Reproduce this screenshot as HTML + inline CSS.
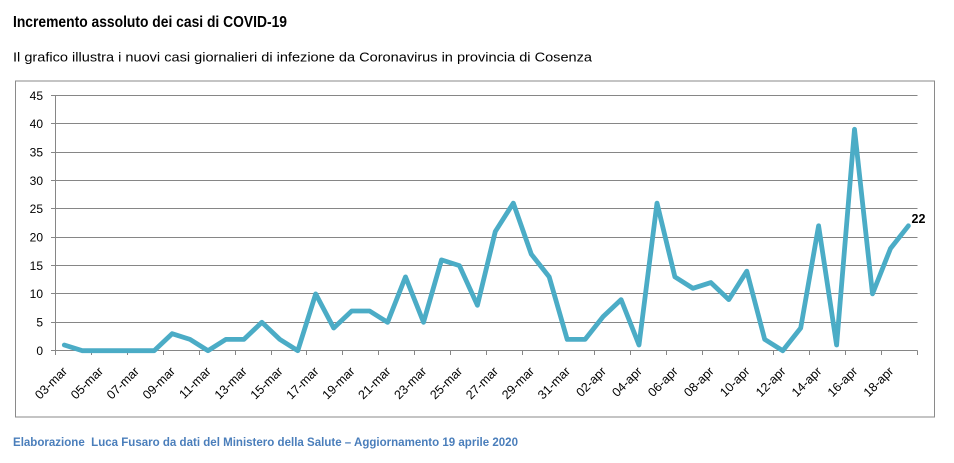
<!DOCTYPE html>
<html>
<head>
<meta charset="utf-8">
<style>
  html,body{margin:0;padding:0;background:#fff;}
  svg{display:block;}
  text{font-family:"Liberation Sans",Arial,sans-serif;}
</style>
</head>
<body>
<svg width="954" height="463" viewBox="0 0 954 463" xmlns="http://www.w3.org/2000/svg">
  <rect width="954" height="463" fill="#fff"/>
  <text x="13" y="27" font-size="15.5" font-weight="bold" fill="#000" textLength="274" lengthAdjust="spacingAndGlyphs">Incremento assoluto dei casi di COVID-19</text>
  <text x="13" y="61.5" font-size="13" fill="#000" textLength="579" lengthAdjust="spacingAndGlyphs">Il grafico illustra i nuovi casi giornalieri di infezione da Coronavirus in provincia di Cosenza</text>

  <rect x="15.5" y="81" width="919" height="336" fill="none" stroke="#8a8a8a" stroke-width="1"/>

  <g stroke="#868686" stroke-width="1" shape-rendering="crispEdges">
    <line x1="51" y1="95.5" x2="917.5" y2="95.5"/>
    <line x1="51" y1="123.5" x2="917.5" y2="123.5"/>
    <line x1="51" y1="152.5" x2="917.5" y2="152.5"/>
    <line x1="51" y1="180.5" x2="917.5" y2="180.5"/>
    <line x1="51" y1="208.5" x2="917.5" y2="208.5"/>
    <line x1="51" y1="237.5" x2="917.5" y2="237.5"/>
    <line x1="51" y1="265.5" x2="917.5" y2="265.5"/>
    <line x1="51" y1="293.5" x2="917.5" y2="293.5"/>
    <line x1="51" y1="322.5" x2="917.5" y2="322.5"/>
    <line x1="51" y1="350.5" x2="917.5" y2="350.5"/>
    <line x1="55.5" y1="95.5" x2="55.5" y2="355"/>
  </g>
  <g stroke="#868686" stroke-width="1" shape-rendering="crispEdges">
    <line x1="91.5" y1="350.5" x2="91.5" y2="355"/>
    <line x1="127.5" y1="350.5" x2="127.5" y2="355"/>
    <line x1="163.5" y1="350.5" x2="163.5" y2="355"/>
    <line x1="199.5" y1="350.5" x2="199.5" y2="355"/>
    <line x1="235.5" y1="350.5" x2="235.5" y2="355"/>
    <line x1="271.5" y1="350.5" x2="271.5" y2="355"/>
    <line x1="306.5" y1="350.5" x2="306.5" y2="355"/>
    <line x1="342.5" y1="350.5" x2="342.5" y2="355"/>
    <line x1="378.5" y1="350.5" x2="378.5" y2="355"/>
    <line x1="414.5" y1="350.5" x2="414.5" y2="355"/>
    <line x1="450.5" y1="350.5" x2="450.5" y2="355"/>
    <line x1="486.5" y1="350.5" x2="486.5" y2="355"/>
    <line x1="522.5" y1="350.5" x2="522.5" y2="355"/>
    <line x1="558.5" y1="350.5" x2="558.5" y2="355"/>
    <line x1="594.5" y1="350.5" x2="594.5" y2="355"/>
    <line x1="630.5" y1="350.5" x2="630.5" y2="355"/>
    <line x1="666.5" y1="350.5" x2="666.5" y2="355"/>
    <line x1="702.5" y1="350.5" x2="702.5" y2="355"/>
    <line x1="738.5" y1="350.5" x2="738.5" y2="355"/>
    <line x1="773.5" y1="350.5" x2="773.5" y2="355"/>
    <line x1="809.5" y1="350.5" x2="809.5" y2="355"/>
    <line x1="845.5" y1="350.5" x2="845.5" y2="355"/>
    <line x1="881.5" y1="350.5" x2="881.5" y2="355"/>
    <line x1="917.5" y1="350.5" x2="917.5" y2="355"/>
  </g>

  <g font-size="12" fill="#000" text-anchor="end">
    <text x="43" y="100">45</text>
    <text x="43" y="128">40</text>
    <text x="43" y="156.5">35</text>
    <text x="43" y="185">30</text>
    <text x="43" y="213">25</text>
    <text x="43" y="241.5">20</text>
    <text x="43" y="270">15</text>
    <text x="43" y="298">10</text>
    <text x="43" y="326.5">5</text>
    <text x="43" y="355">0</text>
  </g>

  <g font-size="12.5" fill="#000" text-anchor="end">
    <text transform="translate(68,372) rotate(-45)">03-mar</text>
    <text transform="translate(103.9,372) rotate(-45)">05-mar</text>
    <text transform="translate(139.8,372) rotate(-45)">07-mar</text>
    <text transform="translate(175.8,372) rotate(-45)">09-mar</text>
    <text transform="translate(211.6,372) rotate(-45)">11-mar</text>
    <text transform="translate(247.6,372) rotate(-45)">13-mar</text>
    <text transform="translate(283.5,372) rotate(-45)">15-mar</text>
    <text transform="translate(319.4,372) rotate(-45)">17-mar</text>
    <text transform="translate(355.4,372) rotate(-45)">19-mar</text>
    <text transform="translate(391.3,372) rotate(-45)">21-mar</text>
    <text transform="translate(427.2,372) rotate(-45)">23-mar</text>
    <text transform="translate(463.1,372) rotate(-45)">25-mar</text>
    <text transform="translate(499.0,372) rotate(-45)">27-mar</text>
    <text transform="translate(535.0,372) rotate(-45)">29-mar</text>
    <text transform="translate(570.9,372) rotate(-45)">31-mar</text>
    <text transform="translate(606.8,372) rotate(-45)">02-apr</text>
    <text transform="translate(642.7,372) rotate(-45)">04-apr</text>
    <text transform="translate(678.6,372) rotate(-45)">06-apr</text>
    <text transform="translate(714.6,372) rotate(-45)">08-apr</text>
    <text transform="translate(750.5,372) rotate(-45)">10-apr</text>
    <text transform="translate(786.4,372) rotate(-45)">12-apr</text>
    <text transform="translate(822.3,372) rotate(-45)">14-apr</text>
    <text transform="translate(858.2,372) rotate(-45)">16-apr</text>
    <text transform="translate(894.2,372) rotate(-45)">18-apr</text>
  </g>

  <polyline fill="none" stroke="#4bacc6" stroke-width="4.8" stroke-linejoin="round" stroke-linecap="round"
    points="64.3,345.0 82.3,350.7 100.2,350.7 118.2,350.7 136.1,350.7 154.1,350.7 172.1,333.7 190.0,339.4 208.0,350.7 225.9,339.4 243.9,339.4 261.9,322.3 279.8,339.4 297.8,350.7 315.7,293.9 333.7,328.0 351.7,311.0 369.6,311.0 387.6,322.3 405.5,276.9 423.5,322.3 441.5,259.9 459.4,265.6 477.4,305.3 495.3,231.5 513.3,203.1 531.3,254.2 549.2,276.9 567.2,339.4 585.1,339.4 603.1,316.6 621.1,299.6 639.0,345.0 657.0,203.1 674.9,276.9 692.9,288.3 710.9,282.6 728.8,299.6 746.8,271.2 764.7,339.4 782.7,350.7 800.7,328.0 818.6,225.8 836.6,345.0 854.5,129.3 872.5,293.9 890.5,248.5 908.4,225.8"/>

  <text x="911.5" y="223" font-size="12.5" font-weight="bold" fill="#000">22</text>

  <text x="13" y="446" font-size="11.5" font-weight="bold" fill="#4a7ebb" textLength="505" lengthAdjust="spacingAndGlyphs" xml:space="preserve">Elaborazione  Luca Fusaro da dati del Ministero della Salute – Aggiornamento 19 aprile 2020</text>
</svg>
</body>
</html>
